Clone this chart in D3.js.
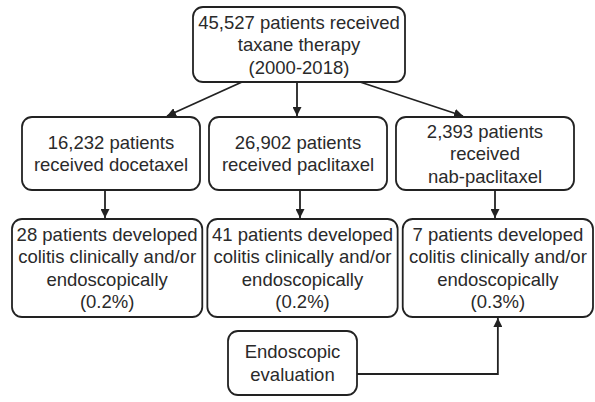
<!DOCTYPE html>
<html>
<head>
<meta charset="utf-8">
<script src="https://cdn.jsdelivr.net/npm/d3@7"></script>
<style>
  body { margin: 0; background: #fff; }
  text { font-family: "Liberation Sans", Arial, sans-serif; fill: #2a2a2a; }
</style>
</head>
<body>
<div id="the_chart"></div>
<script>
// flowchart content
var topLabel = ["45,527 patients received", "taxane therapy", "(2000-2018)"];
var drugs = ["docetaxel", "paclitaxel", "nab-paclitaxel"];
var drugLabels = [
    ["16,232 patients", "received docetaxel"],
    ["26,902 patients", "received paclitaxel"],
    ["2,393 patients", "received", "nab-paclitaxel"]
];
var colitisLabels = [
    ["28 patients developed", "colitis clinically and/or", "endoscopically", "(0.2%)"],
    ["41 patients developed", "colitis clinically and/or", "endoscopically", "(0.2%)"],
    ["7 patients developed", "colitis clinically and/or", "endoscopically", "(0.3%)"]
];
var evalLabel = ["Endoscopic", "evaluation"];

var w = 595;
var h = 402;
var lineH = 22.5; // spacing between text lines
var stroke = "#222";

var svg = d3.select("#the_chart")
    .append("svg")
    .attr("width", w)
    .attr("height", h);

svg.append("defs").append("marker")
    .attr("id", "arrow")
    .attr("viewBox", "0 0 10 10")
    .attr("refX", 10).attr("refY", 5)
    .attr("markerWidth", 9).attr("markerHeight", 9)
    .attr("markerUnits", "userSpaceOnUse")
    .attr("orient", "auto")
    .append("path")
    .attr("d", "M0,0L10,5L0,10z")
    .attr("fill", stroke);

// columns for the two rows of boxes
var row2 = d3.scaleBand().domain(drugs).range([22, 574]).paddingInner(0.048);
var row3 = d3.scaleBand().domain(drugs).range([12, 593]).paddingInner(0.026);

// rows
var y = { top: [7, 82], drug: [117, 190], colitis: [219, 317], evalBox: [331, 395] };

function box(x0, x1, y0, y1, lines) {
    var g = svg.append("g");
    g.append("rect")
        .attr("x", x0).attr("y", y0)
        .attr("width", x1 - x0).attr("height", y1 - y0)
        .attr("rx", 10).attr("ry", 10)
        .attr("fill", "#fff")
        .attr("stroke", stroke)
        .attr("stroke-width", 1.8);
    var cy = (y0 + y1) / 2;
    g.selectAll("text")
        .data(lines)
        .enter().append("text")
        .attr("x", (x0 + x1) / 2)
        .attr("y", function(d, i) { return cy + (i - (lines.length - 1) / 2) * lineH; })
        .attr("text-anchor", "middle")
        .attr("dominant-baseline", "central")
        .attr("font-size", 18.5)
        .text(function(d) { return d; });
}

function arrow(pts) {
    svg.append("path")
        .attr("d", d3.line()(pts))
        .attr("fill", "none")
        .attr("stroke", stroke)
        .attr("stroke-width", 1.8)
        .attr("marker-end", "url(#arrow)");
}

// top box
box(193, 405, y.top[0], y.top[1], topLabel);

// arrows from the top box to each drug
var fromX = [242, 297, 360];
var toX = [167, 297, 463];
drugs.forEach(function(d, i) {
    arrow([[fromX[i], y.top[1]], [toX[i], y.drug[0] - 1]]);
});

// drug boxes, colitis boxes, arrows between them
drugs.forEach(function(d, i) {
    var x2 = row2(d), x3 = row3(d);
    box(x2, x2 + row2.bandwidth(), y.drug[0], y.drug[1], drugLabels[i]);
    box(x3, x3 + row3.bandwidth(), y.colitis[0], y.colitis[1], colitisLabels[i]);
    var ax = Math.round((x2 + row2.bandwidth() / 2 + x3 + row3.bandwidth() / 2) / 2) - 4 + i * 4;
    arrow([[ax, y.drug[1]], [ax, y.colitis[0] - 1]]);
});

// endoscopic evaluation box and its elbow connector
box(228, 357, y.evalBox[0], y.evalBox[1], evalLabel);
var nab = row3("nab-paclitaxel") + row3.bandwidth() / 2;
arrow([[357, 374], [nab, 374], [nab, y.colitis[1] + 1]]);
</script>
</body>
</html>
